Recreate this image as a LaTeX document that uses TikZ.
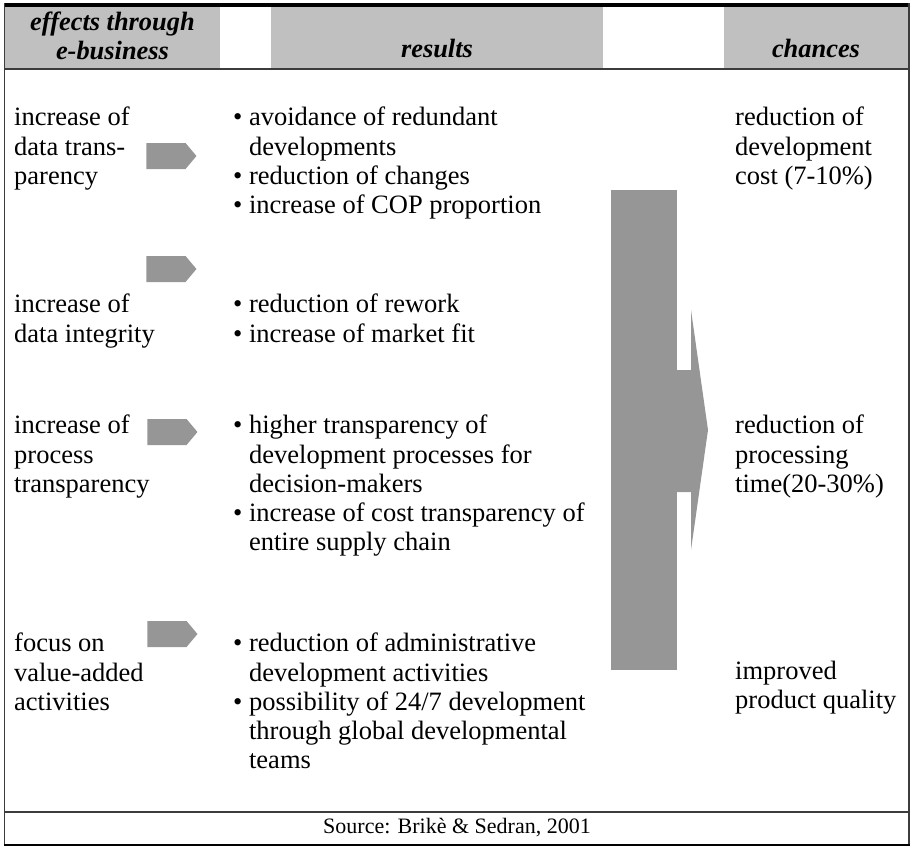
\documentclass[tikz,border=0pt]{standalone}
\usepackage{fontspec}
\setmainfont{Liberation Serif}
\usetikzlibrary{shapes.symbols, positioning, calc}
\definecolor{tabHead}{RGB}{192,192,192}
\definecolor{tabArrow}{RGB}{150,150,150}
\definecolor{tabRule}{RGB}{60,60,60}
\newcommand{\bul}{\textbullet\ }
\newcommand{\ind}{\phantom{\textbullet\ }}
\begin{document}
\begin{tikzpicture}[
    x=1pt, y=-1pt,
    headcell/.style={fill=tabHead, draw=none},
    headtext/.style={font=\fontsize{26.4}{29}\selectfont\bfseries\itshape, align=center, inner sep=0pt},
    bodytext/.style={font=\fontsize{26.5}{29.2}\selectfont, align=left, inner sep=0pt, anchor=north west},
    srctext/.style={font=\fontsize{22}{26}\selectfont, inner sep=0pt},
    smallarrow/.style={signal, signal to=east, signal pointer angle=100, fill=tabArrow, draw=none, inner sep=0pt, outer sep=0pt, minimum width=50pt, minimum height=26pt},
    bigarrow/.style={fill=tabArrow, draw=none},
    rule/.style={draw=tabRule, line width=1.5pt}
]
\useasboundingbox (0,0) rectangle (914,846);

% Header cells
\fill[headcell] (5,7) rectangle (220,68);
\fill[headcell] (271,7) rectangle (603,68);
\fill[headcell] (724,7) rectangle (908,68);
\node (h_effects) [headtext, anchor=north] at (112.5,12) {effects through\\e-business};
\node (h_results) [headtext, anchor=base] at (437,57) {results};
\node (h_chances) [headtext, anchor=base] at (816,57) {chances};

% Frame
\fill[black] (4,3) rectangle (910,7);
\draw[rule] (4.5,3) -- (4.5,845);
\draw[rule] (909,3) -- (909,845);
\draw[rule] (4.5,69) -- (909,69);
\draw[rule] (4.5,812) -- (909,812);
\draw[black, line width=2pt] (4,845) -- (910,845);

% Effects
\node (e_data) [bodytext] at (14,107) {increase of\\data trans-\\parency};
\node (e_integ) [bodytext] at (14,294) {increase of\\data integrity};
\node (e_proc) [bodytext] at (14,415) {increase of\\process\\transparency};
\node (e_value) [bodytext] at (14,633) {focus on\\value-added\\activities};

% Small arrows
\node (a_data) [smallarrow] at (166,156) {};
\node (a_integ) [smallarrow] at (166,269) {};
\node (a_proc) [smallarrow] at (167,432) {};
\node (a_value) [smallarrow] at (167,634) {};

% Results
\node (r_data) [bodytext] at (233,107) {\bul avoidance of redundant\\\ind developments\\\bul reduction of changes\\\bul increase of COP proportion};
\node (r_integ) [bodytext] at (233,294) {\bul reduction of rework\\\bul increase of market fit};
\node (r_proc) [bodytext] at (233,415) {\bul higher transparency of\\\ind development processes for\\\ind decision-makers\\\bul increase of cost transparency of\\\ind entire supply chain};
\node (r_value) [bodytext] at (233,633) {\bul reduction of administrative\\\ind development activities\\\bul possibility of 24/7 development\\\ind through global developmental\\\ind teams};

% Big arrow
\coordinate (b_nw) at (611,190);
\coordinate (b_se) at (677,670);
\fill[bigarrow] (b_nw) rectangle (b_se);
\fill[bigarrow] (670,370) -- (691,370) -- (691,310) -- (708,430) -- (691,550) -- (691,492) -- (670,492) -- cycle;

% Chances
\node (c_cost) [bodytext] at (735,107) {reduction of\\development\\cost (7-10\%)};
\node (c_time) [bodytext] at (735,415) {reduction of\\processing\\time(20-30\%)};
\node (c_qual) [bodytext] at (735,661) {improved\\product quality};

% Source
\node (src) [srctext] at (457,828) {Source: Brikè \& Sedran, 2001};
\end{tikzpicture}
\end{document}
